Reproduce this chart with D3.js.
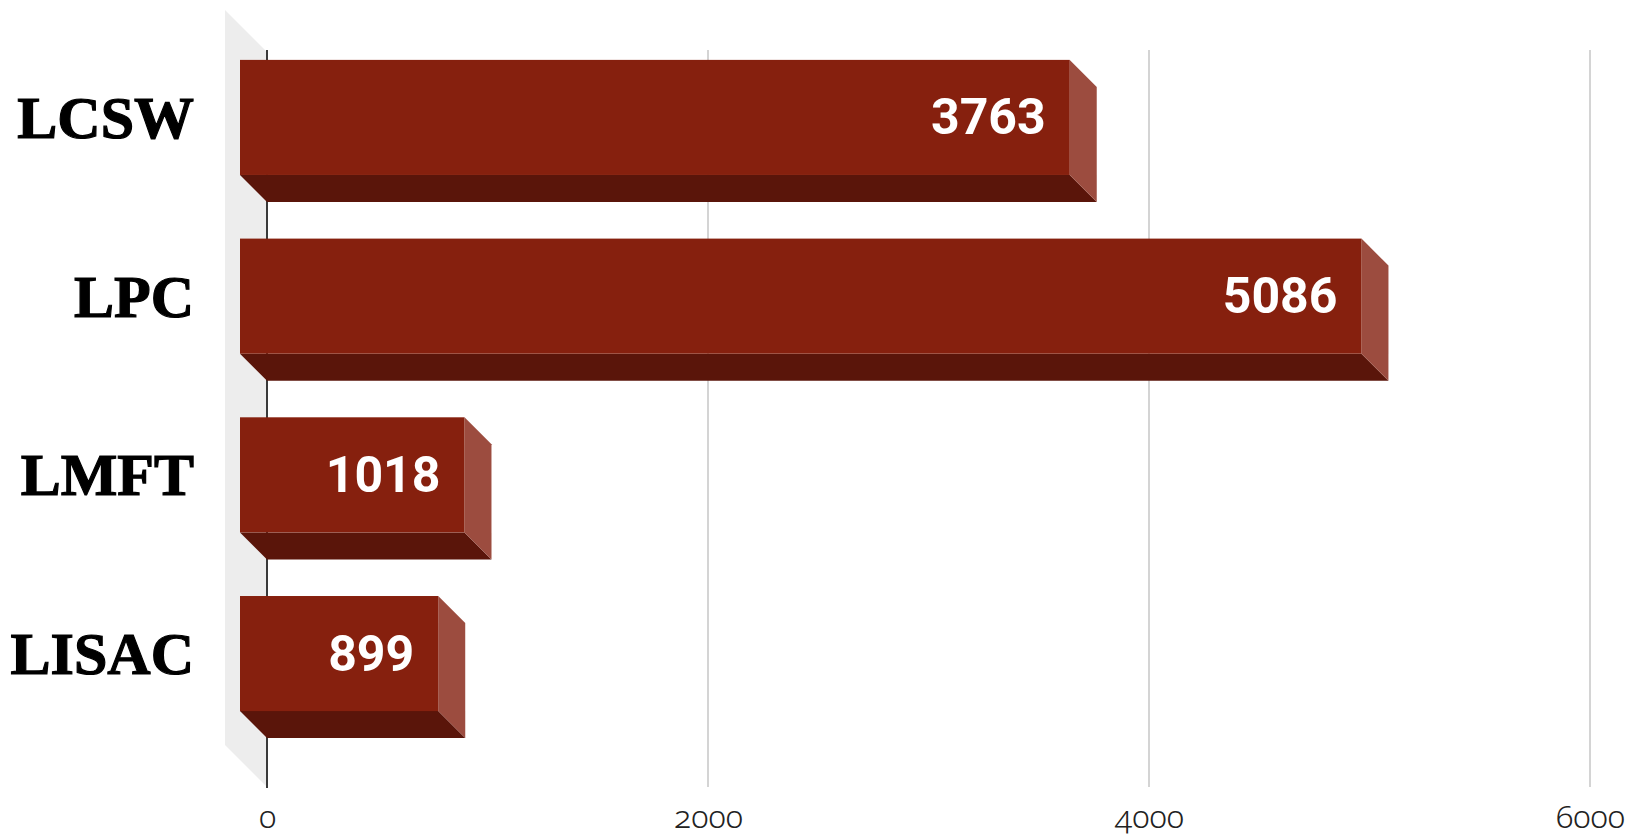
<!DOCTYPE html>
<html>
<head>
<meta charset="utf-8">
<script src="https://cdn.jsdelivr.net/npm/d3@7"></script>
<style>
  html, body { margin: 0; padding: 0; background: #ffffff; }
  svg { display: block; }
</style>
</head>
<body>
<svg id="chart" width="1647" height="839"></svg>
<script>
// License counts by credential type
const categories = ["LCSW", "LPC", "LMFT", "LISAC"];
const counts = [3763, 5086, 1018, 899];
const tickValues = [0, 2000, 4000, 6000];

const W = 1647, H = 839;
const depth = 27;        // oblique depth of each bar
const wallDepth = 42;    // oblique depth of the left wall
const plotTop = 50, plotBottom = 787;

const svg = d3.select("#chart");

const x = d3.scaleLinear().domain([0, 6000]).range([267, 1590]);
const y = d3.scaleBand()
  .domain(categories)
  .range([plotTop, plotBottom])
  .paddingInner(0.356)
  .paddingOuter(0.24)
  .align(0.43);

// Left wall (grey slab behind the zero line)
svg.append("path")
  .attr("d", d3.line()([
    [x(0) - wallDepth, plotTop - wallDepth + 2],
    [x(0), plotTop + 2],
    [x(0), plotBottom],
    [x(0) - wallDepth, plotBottom - wallDepth]
  ]) + "Z")
  .attr("fill", "#ededed");

// Vertical gridlines
svg.append("g")
  .selectAll("line")
  .data(tickValues.filter(v => v !== 0))
  .join("line")
  .attr("x1", d => x(d)).attr("x2", d => x(d))
  .attr("y1", plotTop).attr("y2", plotBottom)
  .attr("stroke", "#d4d4d4")
  .attr("stroke-width", 2);

// Zero line
svg.append("line")
  .attr("x1", x(0)).attr("x2", x(0))
  .attr("y1", plotTop).attr("y2", plotBottom + 1)
  .attr("stroke", "#3a3a3a")
  .attr("stroke-width", 2);

// Bottom axis tick labels
const xAxis = d3.axisBottom(x).tickValues(tickValues).tickSize(0).tickPadding(0)
  .tickFormat(d3.format("d"));
const axisG = svg.append("g")
  .attr("transform", `translate(0, ${plotBottom})`)
  .call(xAxis);
axisG.select(".domain").remove();
axisG.selectAll("text")
  .attr("y", 41)
  .attr("dy", null)
  .attr("fill", "#222")
  .style("font-family", "'Noto Sans', sans-serif")
  .style("font-variant-numeric", "oldstyle-nums")
  .style("font-feature-settings", "'onum' 1")
  .style("font-weight", "300")
  .style("font-size", "32px");

// 3D bars
const bars = svg.append("g")
  .selectAll("g")
  .data(categories.map((c, i) => ({ cat: c, value: counts[i] })))
  .join("g");

// front face geometry: offset up-left by depth from the back plane
const fx0 = () => x(0) - depth;
const fx1 = d => x(d.value) - depth;
const fy0 = d => y(d.cat) - depth;
const fy1 = d => y(d.cat) - depth + y.bandwidth();

// bottom face
bars.append("path")
  .attr("d", d => d3.line()([
    [fx0(), fy1(d)], [fx1(d), fy1(d)],
    [fx1(d) + depth, fy1(d) + depth], [fx0() + depth, fy1(d) + depth]
  ]) + "Z")
  .attr("fill", "#5a150a");

// right face
bars.append("path")
  .attr("d", d => d3.line()([
    [fx1(d), fy0(d)], [fx1(d) + depth, fy0(d) + depth],
    [fx1(d) + depth, fy1(d) + depth], [fx1(d), fy1(d)]
  ]) + "Z")
  .attr("fill", "#9c4c3f");

// front face
bars.append("rect")
  .attr("x", fx0())
  .attr("y", d => fy0(d))
  .attr("width", d => fx1(d) - fx0())
  .attr("height", y.bandwidth())
  .attr("fill", "#86200e");

// value labels inside the front face
bars.append("text")
  .attr("x", d => fx1(d) - 24)
  .attr("y", d => (fy0(d) + fy1(d)) / 2)
  .attr("dy", "0.34em")
  .attr("text-anchor", "end")
  .attr("fill", "#ffffff")
  .style("font-family", "Roboto, sans-serif")
  .style("font-weight", "700")
  .style("font-size", "50px")
  .text(d => d.value);

// category labels
svg.append("g")
  .selectAll("text")
  .data(categories)
  .join("text")
  .attr("x", 194)
  .attr("y", d => y(d) - depth + y.bandwidth() / 2)
  .attr("dy", "0.34em")
  .attr("text-anchor", "end")
  .attr("fill", "#000")
  .attr("stroke", "#000")
  .attr("stroke-width", 1.2)
  .style("font-family", "'Liberation Serif', serif")
  .style("font-weight", "700")
  .style("font-size", "60px")
  .text(d => d);
</script>
</body>
</html>
